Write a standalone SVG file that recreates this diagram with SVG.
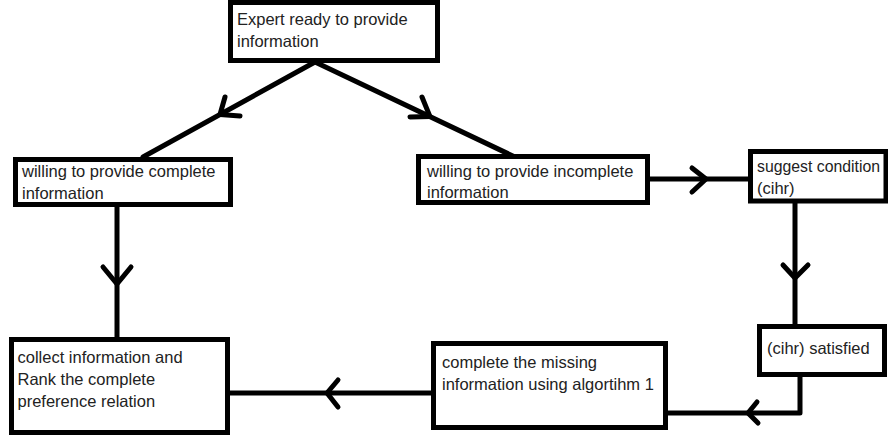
<svg xmlns="http://www.w3.org/2000/svg" width="888" height="439" viewBox="0 0 888 439">
<style>
.box{fill:#fff;stroke:#000;stroke-width:5}
.t{font-family:"Liberation Sans",Arial,sans-serif;font-size:16.5px;fill:#222}
.c{fill:none;stroke:#000;stroke-width:5;stroke-linecap:round;stroke-linejoin:round}
</style>
<rect width="888" height="439" fill="#fff"/>
<g id="connectors">
<path class="c" d="M315,62 L143,157"/>
<path class="c" d="M225,97 L220,114.5 L240,116"/>
<path class="c" d="M315,62 L515,157"/>
<path class="c" d="M422,97 L430,116.6 L410,117"/>
<path class="c" d="M117,204 L117,340"/>
<path class="c" d="M103,267 L117,284 L131,267"/>
<path class="c" d="M648,179 L750,179"/>
<path class="c" d="M692,168 L706,179 L692,192"/>
<path class="c" d="M795,201 L795,326"/>
<path class="c" d="M783,265 L795,278 L808,265"/>
<path class="c" d="M800,374 L800,413 L666,413"/>
<path class="c" d="M757,402 L748,413 L758,423"/>
<path class="c" d="M433,393 L228,393"/>
<path class="c" d="M338,380 L327,393 L338,407"/>
</g>
<g id="expert">
<rect class="box" x="230.5" y="2.5" width="207" height="58"/>
<text class="t" x="237" y="25">Expert ready to provide</text>
<text class="t" x="237" y="47">information</text>
</g>
<g id="complete">
<rect class="box" x="15.5" y="159.5" width="215" height="45"/>
<text class="t" x="22" y="177">willing to provide complete</text>
<text class="t" x="22" y="199">information</text>
</g>
<g id="incomplete">
<rect class="box" x="418.5" y="156.5" width="229" height="46"/>
<text class="t" x="427" y="177">willing to provide incomplete</text>
<text class="t" x="427" y="198">information</text>
</g>
<g id="suggest">
<rect class="box" x="750.5" y="151.5" width="135.5" height="49.5"/>
<text class="t" x="757" y="172" textLength="123" lengthAdjust="spacingAndGlyphs">suggest condition</text>
<text class="t" x="757" y="194">(cihr)</text>
</g>
<g id="satisfied">
<rect class="box" x="759.5" y="326.5" width="125" height="48"/>
<text class="t" x="767" y="354">(cihr) satisfied</text>
</g>
<g id="missing">
<rect class="box" x="433.5" y="343.5" width="232" height="84"/>
<text class="t" x="442" y="368">complete the missing</text>
<text class="t" x="442" y="390">information using algortihm 1</text>
</g>
<g id="rank">
<rect class="box" x="11.5" y="339.5" width="216" height="93"/>
<text class="t" x="17.5" y="363">collect information and</text>
<text class="t" x="17.5" y="385">Rank the complete</text>
<text class="t" x="17.5" y="407">preference relation</text>
</g>
</svg>
